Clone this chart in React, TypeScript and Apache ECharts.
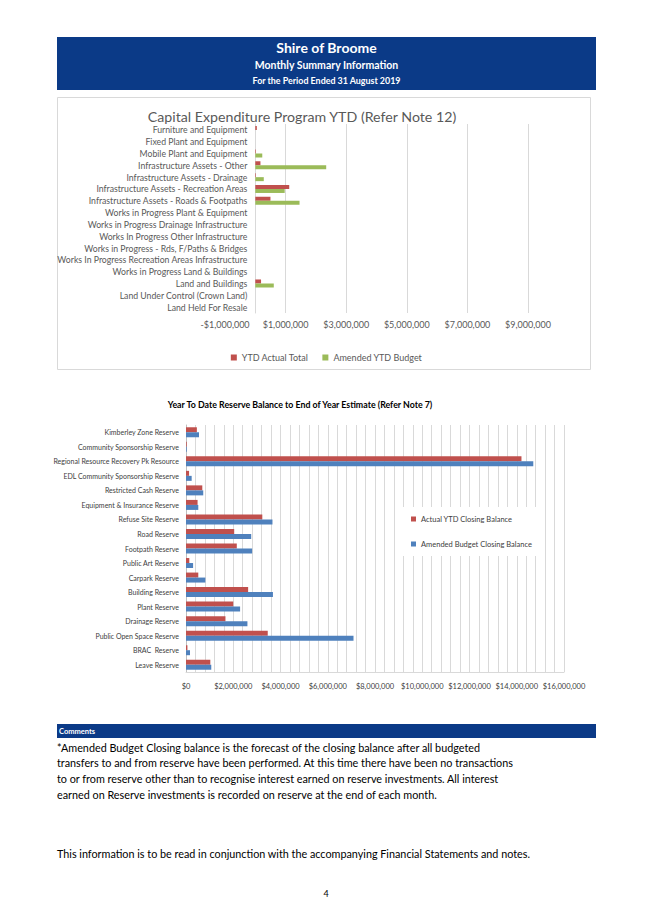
import React, { useEffect, useRef } from "react";
import * as echarts from "echarts";

const capCategories = [
  "Furniture and Equipment",
  "Fixed Plant and Equipment",
  "Mobile Plant and Equipment",
  "Infrastructure Assets - Other",
  "Infrastructure Assets - Drainage",
  "Infrastructure Assets - Recreation Areas",
  "Infrastructure Assets - Roads & Footpaths",
  "Works in Progress Plant & Equipment",
  "Works in Progress Drainage Infrastructure",
  "Works In Progress Other Infrastructure",
  "Works in Progress - Rds, F/Paths & Bridges",
  "Works In Progress Recreation Areas Infrastructure",
  "Works in Progress Land & Buildings",
  "Land and Buildings",
  "Land Under Control (Crown Land)",
  "Land Held For Resale",
];
const capActual = [50000, 0, 20000, 170000, 20000, 1120000, 500000, 0, 0, 0, 0, 0, 0, 190000, 0, 0];
const capBudget = [0, 0, 230000, 2340000, 280000, 970000, 1460000, 0, 0, 0, 0, 0, 0, 610000, 0, 0];
const capMin = -1000000;
const capMax = 9000000;
const capTickLabels = [-1000000, 1000000, 3000000, 5000000, 7000000, 9000000];
const capGridValues = [1000000, 3000000, 5000000, 7000000, 9000000];

const resCategories = [
  "Kimberley Zone Reserve",
  "Community Sponsorship Reserve",
  "Regional Resource Recovery Pk Resource",
  "EDL Community Sponsorship Reserve",
  "Restricted Cash Reserve",
  "Equipment & Insurance Reserve",
  "Refuse Site Reserve",
  "Road Reserve",
  "Footpath Reserve",
  "Public Art Reserve",
  "Carpark Reserve",
  "Building Reserve",
  "Plant Reserve",
  "Drainage Reserve",
  "Public Open Space Reserve",
  "BRAC  Reserve",
  "Leave Reserve",
];
const resActual = [460000, 30000, 14200000, 130000, 690000, 490000, 3230000, 2040000, 2150000, 140000, 520000, 2630000, 2000000, 1670000, 3460000, 60000, 1030000];
const resBudget = [550000, 30000, 14700000, 240000, 730000, 520000, 3660000, 2760000, 2800000, 300000, 820000, 3680000, 2290000, 2600000, 7090000, 170000, 1070000];
const resLabelStep = 2000000;

const commentLines = [
  "*Amended Budget Closing balance is the forecast of the closing balance after all budgeted",
  "transfers to and from reserve have been performed. At this time there have been no transactions",
  "to or from reserve other than to recognise interest earned on reserve investments. All interest",
  "earned on Reserve investments is recorded on reserve at the end of each month.",
];

const FONT = "Lato, 'Liberation Sans', sans-serif";
const NAVY = "#0B3A87";

function money(v: number): string {
  const s = Math.abs(v).toLocaleString("en-US");
  return (v < 0 ? "-$" : "$") + s;
}

function txt(x: number, y: number, text: string, size: number, opts: any = {}) {
  return {
    type: "text",
    x,
    y,
    silent: true,
    style: {
      text,
      fill: opts.fill || "#000",
      font: `${opts.bold ? "bold " : ""}${size}px ${FONT}`,
      textAlign: opts.align || "left",
      textVerticalAlign: "middle",
    },
  };
}

export default function App() {
  const ref = useRef<HTMLDivElement>(null);
  useEffect(() => {
    if (!ref.current) return;
    const chart = echarts.init(ref.current, null, { renderer: "svg" });
    const capGridLeft = 225;
    const capGridRight = 125;
    const capWidth = 653 - capGridLeft - capGridRight;
    const zeroOffset = (capWidth * (0 - capMin)) / (capMax - capMin);

    const graphics: any[] = [
      { type: "rect", shape: { x: 57, y: 37, width: 539, height: 53 }, style: { fill: NAVY }, silent: true },
      txt(326.5, 47, "Shire of Broome", 14, { bold: true, fill: "#fff", align: "center" }),
      txt(326.5, 65, "Monthly Summary Information", 10.5, { bold: true, fill: "#fff", align: "center" }),
      txt(326.5, 80.5, "For the Period Ended 31 August 2019", 8.9, { bold: true, fill: "#fff", align: "center" }),
      { type: "rect", shape: { x: 57.5, y: 97.5, width: 533, height: 272 }, style: { fill: "none", stroke: "#D9D9D9", lineWidth: 1 }, silent: true },
      txt(302, 116, "Capital Expenditure Program YTD (Refer Note 12)", 14.2, { fill: "#595959", align: "center" }),
      txt(300, 404, "Year To Date Reserve Balance to End of Year Estimate (Refer Note 7)", 8.8, { bold: true, fill: "#000", align: "center" }),
      { type: "rect", shape: { x: 57, y: 724, width: 539, height: 14 }, style: { fill: NAVY }, silent: true },
      txt(59, 731, "Comments", 7.5, { bold: true, fill: "#fff" }),
      ...commentLines.map((l, i) => txt(57, 747 + i * 15.7, l, 10.8, { fill: "#000" })),
      txt(57, 853, "This information is to be read in conjunction with the accompanying Financial Statements and notes.", 10.8, { fill: "#000" }),
      txt(326, 893, "4", 9, { fill: "#000", align: "center" }),
    ];

    chart.setOption({
      animation: false,
      textStyle: { fontFamily: FONT },
      graphic: graphics,
      legend: [
        {
          data: ["YTD Actual Total", "Amended YTD Budget"],
          left: "center",
          top: 348,
          icon: "rect",
          itemWidth: 6,
          itemHeight: 6,
          itemGap: 14,
          textStyle: { fontSize: 9, color: "#595959", fontFamily: FONT },
        },
        {
          data: ["Actual YTD Closing Balance", "Amended Budget Closing Balance"],
          orient: "vertical",
          left: 403,
          top: 507,
          icon: "rect",
          itemWidth: 5,
          itemHeight: 5,
          itemGap: 17,
          padding: [8, 8, 8, 8],
          backgroundColor: "#fff",
          textStyle: { fontSize: 7.5, color: "#404040", fontFamily: FONT },
        },
      ],
      grid: [
        { left: capGridLeft, right: capGridRight, top: 124, height: 189 },
        { left: 186, right: 89, top: 425, height: 247 },
      ],
      xAxis: [
        {
          type: "value",
          gridIndex: 0,
          min: capMin,
          max: capMax,
          axisLine: { show: false },
          axisTick: { show: false, customValues: capGridValues },
          splitLine: { show: true, lineStyle: { color: "#D9D9D9", width: 1 } },
          axisLabel: {
            customValues: capTickLabels,
            formatter: (v: number) => money(v),
            fontSize: 9,
            color: "#595959",
            margin: 7,
            fontFamily: FONT,
          },
        },
        {
          type: "value",
          gridIndex: 1,
          min: 0,
          max: 16000000,
          interval: 400000,
          axisLine: { show: true, lineStyle: { color: "#D9D9D9" } },
          axisTick: { show: false },
          splitLine: { show: true, lineStyle: { color: "#D9D9D9", width: 1 } },
          axisLabel: {
            formatter: (v: number) => (Math.round(v) % resLabelStep === 0 ? money(v) : ""),
            fontSize: 7.5,
            color: "#404040",
            margin: 10,
            fontFamily: FONT,
          },
        },
      ],
      yAxis: [
        {
          type: "category",
          gridIndex: 0,
          data: capCategories,
          inverse: true,
          offset: -zeroOffset,
          axisLine: { show: true, onZero: false, lineStyle: { color: "#D9D9D9" } },
          axisTick: { show: false },
          axisLabel: { fontSize: 8.7, color: "#595959", margin: 8, fontFamily: FONT },
        },
        {
          type: "category",
          gridIndex: 1,
          data: resCategories,
          inverse: true,
          axisLine: { show: true, lineStyle: { color: "#BFBFBF" } },
          axisTick: { show: false },
          axisLabel: { fontSize: 7, color: "#404040", margin: 7, fontFamily: FONT },
        },
      ],
      series: [
        {
          name: "YTD Actual Total",
          type: "bar",
          xAxisIndex: 0,
          yAxisIndex: 0,
          data: capActual,
          barWidth: 4,
          barGap: "0%",
          itemStyle: { color: "#C0504D" },
        },
        {
          name: "Amended YTD Budget",
          type: "bar",
          xAxisIndex: 0,
          yAxisIndex: 0,
          data: capBudget,
          barWidth: 4,
          barGap: "0%",
          itemStyle: { color: "#9BBB59" },
        },
        {
          name: "Actual YTD Closing Balance",
          type: "bar",
          xAxisIndex: 1,
          yAxisIndex: 1,
          data: resActual,
          barWidth: 5,
          barGap: "0%",
          itemStyle: { color: "#C0504D" },
        },
        {
          name: "Amended Budget Closing Balance",
          type: "bar",
          xAxisIndex: 1,
          yAxisIndex: 1,
          data: resBudget,
          barWidth: 5,
          barGap: "0%",
          itemStyle: { color: "#4F81BD" },
        },
      ],
    });
    return () => chart.dispose();
  }, []);
  return (
    <div
      ref={ref}
      style={{ position: "absolute", left: 0, top: 0, width: 653, height: 923, background: "#fff" }}
    />
  );
}
